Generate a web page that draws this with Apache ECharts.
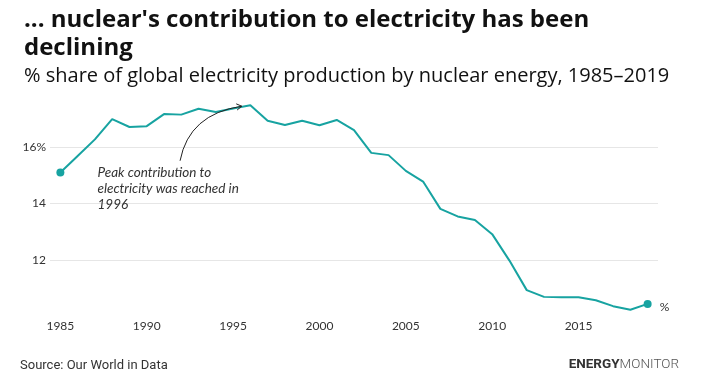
<!DOCTYPE html>
<html>
<head>
<meta charset="utf-8">
<script src="https://cdn.jsdelivr.net/npm/echarts@6/dist/echarts.min.js"></script>
<style>
html,body{margin:0;padding:0;background:#fff;}
#c{width:701px;height:389px;}
</style>
</head>
<body>
<div id="c"></div>
<script>
// ---- data ----
const years = [1985,1986,1987,1988,1989,1990,1991,1992,1993,1994,1995,1996,1997,1998,1999,2000,2001,2002,2003,2004,2005,2006,2007,2008,2009,2010,2011,2012,2013,2014,2015,2016,2017,2018,2019];
const nuclearShare = [15.10,15.69,16.28,17.00,16.72,16.75,17.18,17.16,17.37,17.25,17.38,17.49,16.94,16.79,16.94,16.78,16.97,16.61,15.80,15.72,15.16,14.78,13.81,13.54,13.41,12.91,11.97,10.92,10.68,10.67,10.67,10.56,10.35,10.22,10.43];
const xTickLabels = [1985,1990,1995,2000,2005,2010,2015];
const yTickLabels = [12,14,16];
const titleText = "... nuclear's contribution to electricity has been\ndeclining";
const subtitleText = "% share of global electricity production by nuclear energy, 1985\u20132019";
const sourceText = "Source: Our World in Data";
const annotationText = "Peak contribution to\nelectricity was reached in\n1996";

const TEAL = '#17a3a1';
const last = years.length - 1;
const seriesData = years.map((y, i) => ({
  value: [y, nuclearShare[i]],
  symbol: (i === 0 || i === last) ? 'circle' : 'none'
}));

const chart = echarts.init(document.getElementById('c'), null, {renderer: 'canvas'});
const option = {
  backgroundColor: '#fff',
  animation: false,
  title: [
    {
      text: titleText, left: 19, top: 1,
      textStyle: {fontFamily: 'Open Sans', fontWeight: 'bold', fontSize: 24, color: '#111', lineHeight: 28}
    },
    {
      text: subtitleText, left: 19, top: 61,
      textStyle: {fontFamily: 'Open Sans', fontWeight: 'normal', fontSize: 20, color: '#111'}
    }
  ],
  grid: {left: 50, right: 43, top: 91, bottom: 73, containLabel: false},
  xAxis: {
    type: 'value', min: 1984.4, max: 2019.6,
    axisLine: {show: false}, axisTick: {show: false}, splitLine: {show: false},
    axisLabel: {
      customValues: xTickLabels, color: '#333', fontSize: 12, fontFamily: 'Lato', margin: 4,
      formatter: v => String(v)
    }
  },
  yAxis: {
    type: 'value', min: 10, max: 18,
    axisLine: {show: false}, axisTick: {show: false},
    splitLine: {show: false},
    axisLabel: {
      customValues: yTickLabels, color: '#333', fontSize: 12, fontFamily: 'Lato', margin: 4,
      formatter: v => v === 16 ? '16%' : String(v)
    }
  },
  series: [{
    type: 'line', data: seriesData, symbolSize: 8,
    lineStyle: {color: TEAL, width: 2}, itemStyle: {color: TEAL},
    showAllSymbol: true,
    endLabel: {show: true, formatter: '%', color: '#333', fontSize: 12, fontFamily: 'Lato', offset: [4, 3]},
    markLine: {
      silent: true, symbol: 'none', label: {show: false},
      lineStyle: {color: '#e6e6e6', width: 1, type: 'solid'},
      data: yTickLabels.map(v => [{coord: [1984.4, v]}, {coord: [2019.6, v]}]),
      z: 1
    },
    z: 3
  }]
};
chart.setOption(option);

// annotation positioned through the chart's scales
const px = (x, y) => chart.convertToPixel({gridIndex: 0}, [x, y]);
const p0 = px(1991.93, 15.52), pc = px(1992.45, 17.18), p1 = px(1995.5, 17.46);
const txt = px(1987.15, 15.37);
const ang = Math.atan2(p1[1] - pc[1], p1[0] - pc[0]);
const L = 6, spread = 0.55;
const a1 = [p1[0] - L * Math.cos(ang - spread), p1[1] - L * Math.sin(ang - spread)];
const a2 = [p1[0] - L * Math.cos(ang + spread), p1[1] - L * Math.sin(ang + spread)];

chart.setOption({
  graphic: [
    {type: 'bezierCurve', shape: {x1: p0[0], y1: p0[1], x2: p1[0], y2: p1[1], cpx1: pc[0], cpy1: pc[1]},
     style: {stroke: '#222', lineWidth: 1, fill: null}, z: 10},
    {type: 'polyline', shape: {points: [a1, p1, a2]}, style: {stroke: '#222', lineWidth: 1, fill: null}, z: 10},
    {type: 'text', x: txt[0], y: txt[1],
     style: {text: annotationText, fontFamily: 'Lato', fontStyle: 'italic', fontSize: 13.5, lineHeight: 16, fill: '#333'}, z: 10},
    {type: 'text', left: 20, top: 359,
     style: {text: sourceText, fontFamily: 'Roboto', fontSize: 13, fill: '#333'}},
    {type: 'text', right: 22, top: 358,
     style: {
       text: '{a|ENERGY}{b|MONITOR}',
       rich: {
         a: {fontFamily: 'Roboto', fontWeight: 'bold', fontSize: 13.5, fill: '#333', color: '#333'},
         b: {fontFamily: 'Roboto', fontWeight: 300, fontSize: 13.5, fill: '#555', color: '#555'}
       }
     }}
  ]
});
</script>
</body>
</html>
